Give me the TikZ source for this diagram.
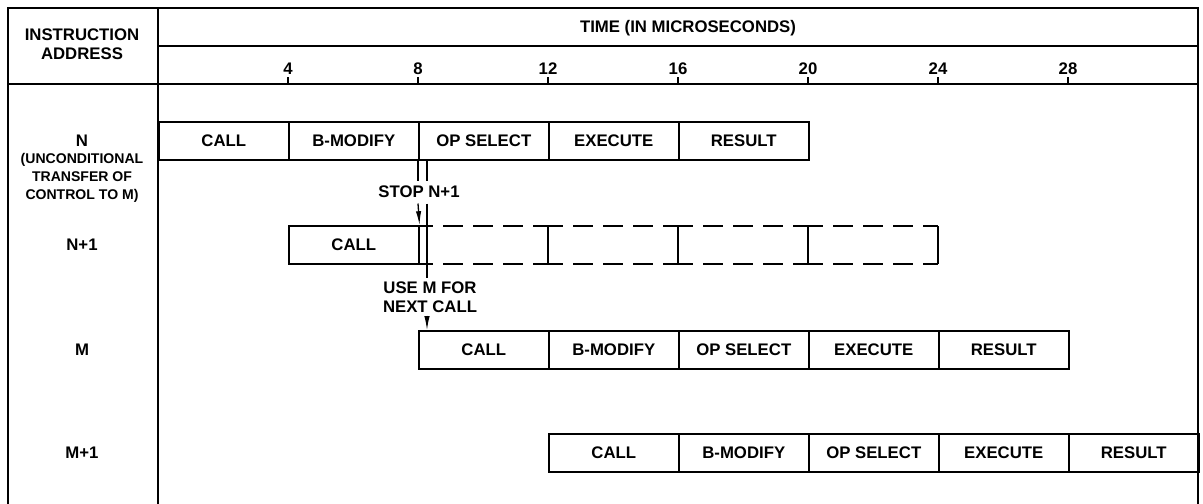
\documentclass[tikz,border=0pt]{standalone}
\usepackage{fontspec}
\setmainfont{Liberation Sans}
\usetikzlibrary{arrows.meta,calc}

\begin{document}
\begin{tikzpicture}[
  x=0.03cm,y=-0.03cm,>=Latex,
  every node/.style={font=\bfseries\fontsize{14.3}{16}\selectfont,inner sep=0pt},
  frame/.style={line width=1.6pt},
  stage/.style={draw,line width=1.3pt,minimum width=3.9cm,minimum height=1.14cm,anchor=west},
  sub/.style={font=\bfseries\fontsize{12}{15.4}\selectfont,align=center},
  note/.style={inner xsep=0pt,inner ysep=1.6mm,align=center},
  dashseg/.style={line width=1.3pt,dash pattern=on 17.07pt off 8.54pt,dash phase=4.27pt},
  flow/.style={line width=1.1pt},
  tip/.style={flow,-{Latex[length=4.2mm,width=1.6mm]}}
]
\useasboundingbox (0,0) rectangle (1203,504);
% ---------- frame and header
\draw[frame] (8,504) -- (8,8) -- (1198,8) -- (1198,504);
\draw[frame] (158,8) -- (158,504);
\draw[frame] (158,46) -- (1198,46);
\draw[frame] (8,84) -- (1198,84);
\node[align=center] (addr) at (82,44) {INSTRUCTION\\ADDRESS};
\node (time) at (688,28) {TIME (IN MICROSECONDS)};
\foreach \t in {4,8,...,28} {
  \draw[frame] ({158+32.5*\t},84) -- ++(0,-7);
  \node (tk\t) at ({158+32.5*\t},69) {\t};
}
% ---------- address column
\node (lN) at (82,141) {N};
\node[sub] (lNnote) at (82,178) {(UNCONDITIONAL\\TRANSFER OF\\CONTROL TO M)};
\node (lN1) at (82,245) {N+1};
\node (lM) at (82,350) {M};
\node (lM1) at (82,453) {M+1};
% ---------- stages
\foreach \lbl [count=\i from 0] in {CALL,B-MODIFY,OP SELECT,EXECUTE,RESULT} {
  \node[stage] (N-\i)  at ({158+32.5*4*\i},141) {\lbl};
  \node[stage] (M-\i)  at ({158+32.5*(8+4*\i)},350) {\lbl};
  \node[stage] (M1-\i) at ({158+32.5*(12+4*\i)},453) {\lbl};
}
\node[stage] (N1) at ({158+32.5*4},245) {CALL};
% cancelled part of N+1
\foreach \t in {8,12,16,20} {
  \draw[dashseg] ({158+32.5*\t},226) -- ++(130,0) ({158+32.5*\t},264) -- ++(130,0);
  \draw[line width=1.3pt] ({158+32.5*(\t+4)},226) -- ++(0,38);
}
% ---------- transfer of control
\node[note] (stop) at (419,192) {STOP N+1};
\node[note,inner ysep=0.9mm] (use) at (430,297) {USE M FOR\\NEXT CALL};
\coordinate (split) at ($(N-2.south west)+(9,0)$);
\draw[flow] (N-2.south west) -- (N-2.south west |- stop.north);
\draw[flow] (split) -- (split |- stop.north);
\draw[tip] (N-2.south west |- stop.south) -- (N1.north east);
\draw[flow] (split |- stop.south) -- (split |- use.north);
\draw[tip] (split |- use.south) -- (split |- M-0.north);
\end{tikzpicture}
\end{document}
